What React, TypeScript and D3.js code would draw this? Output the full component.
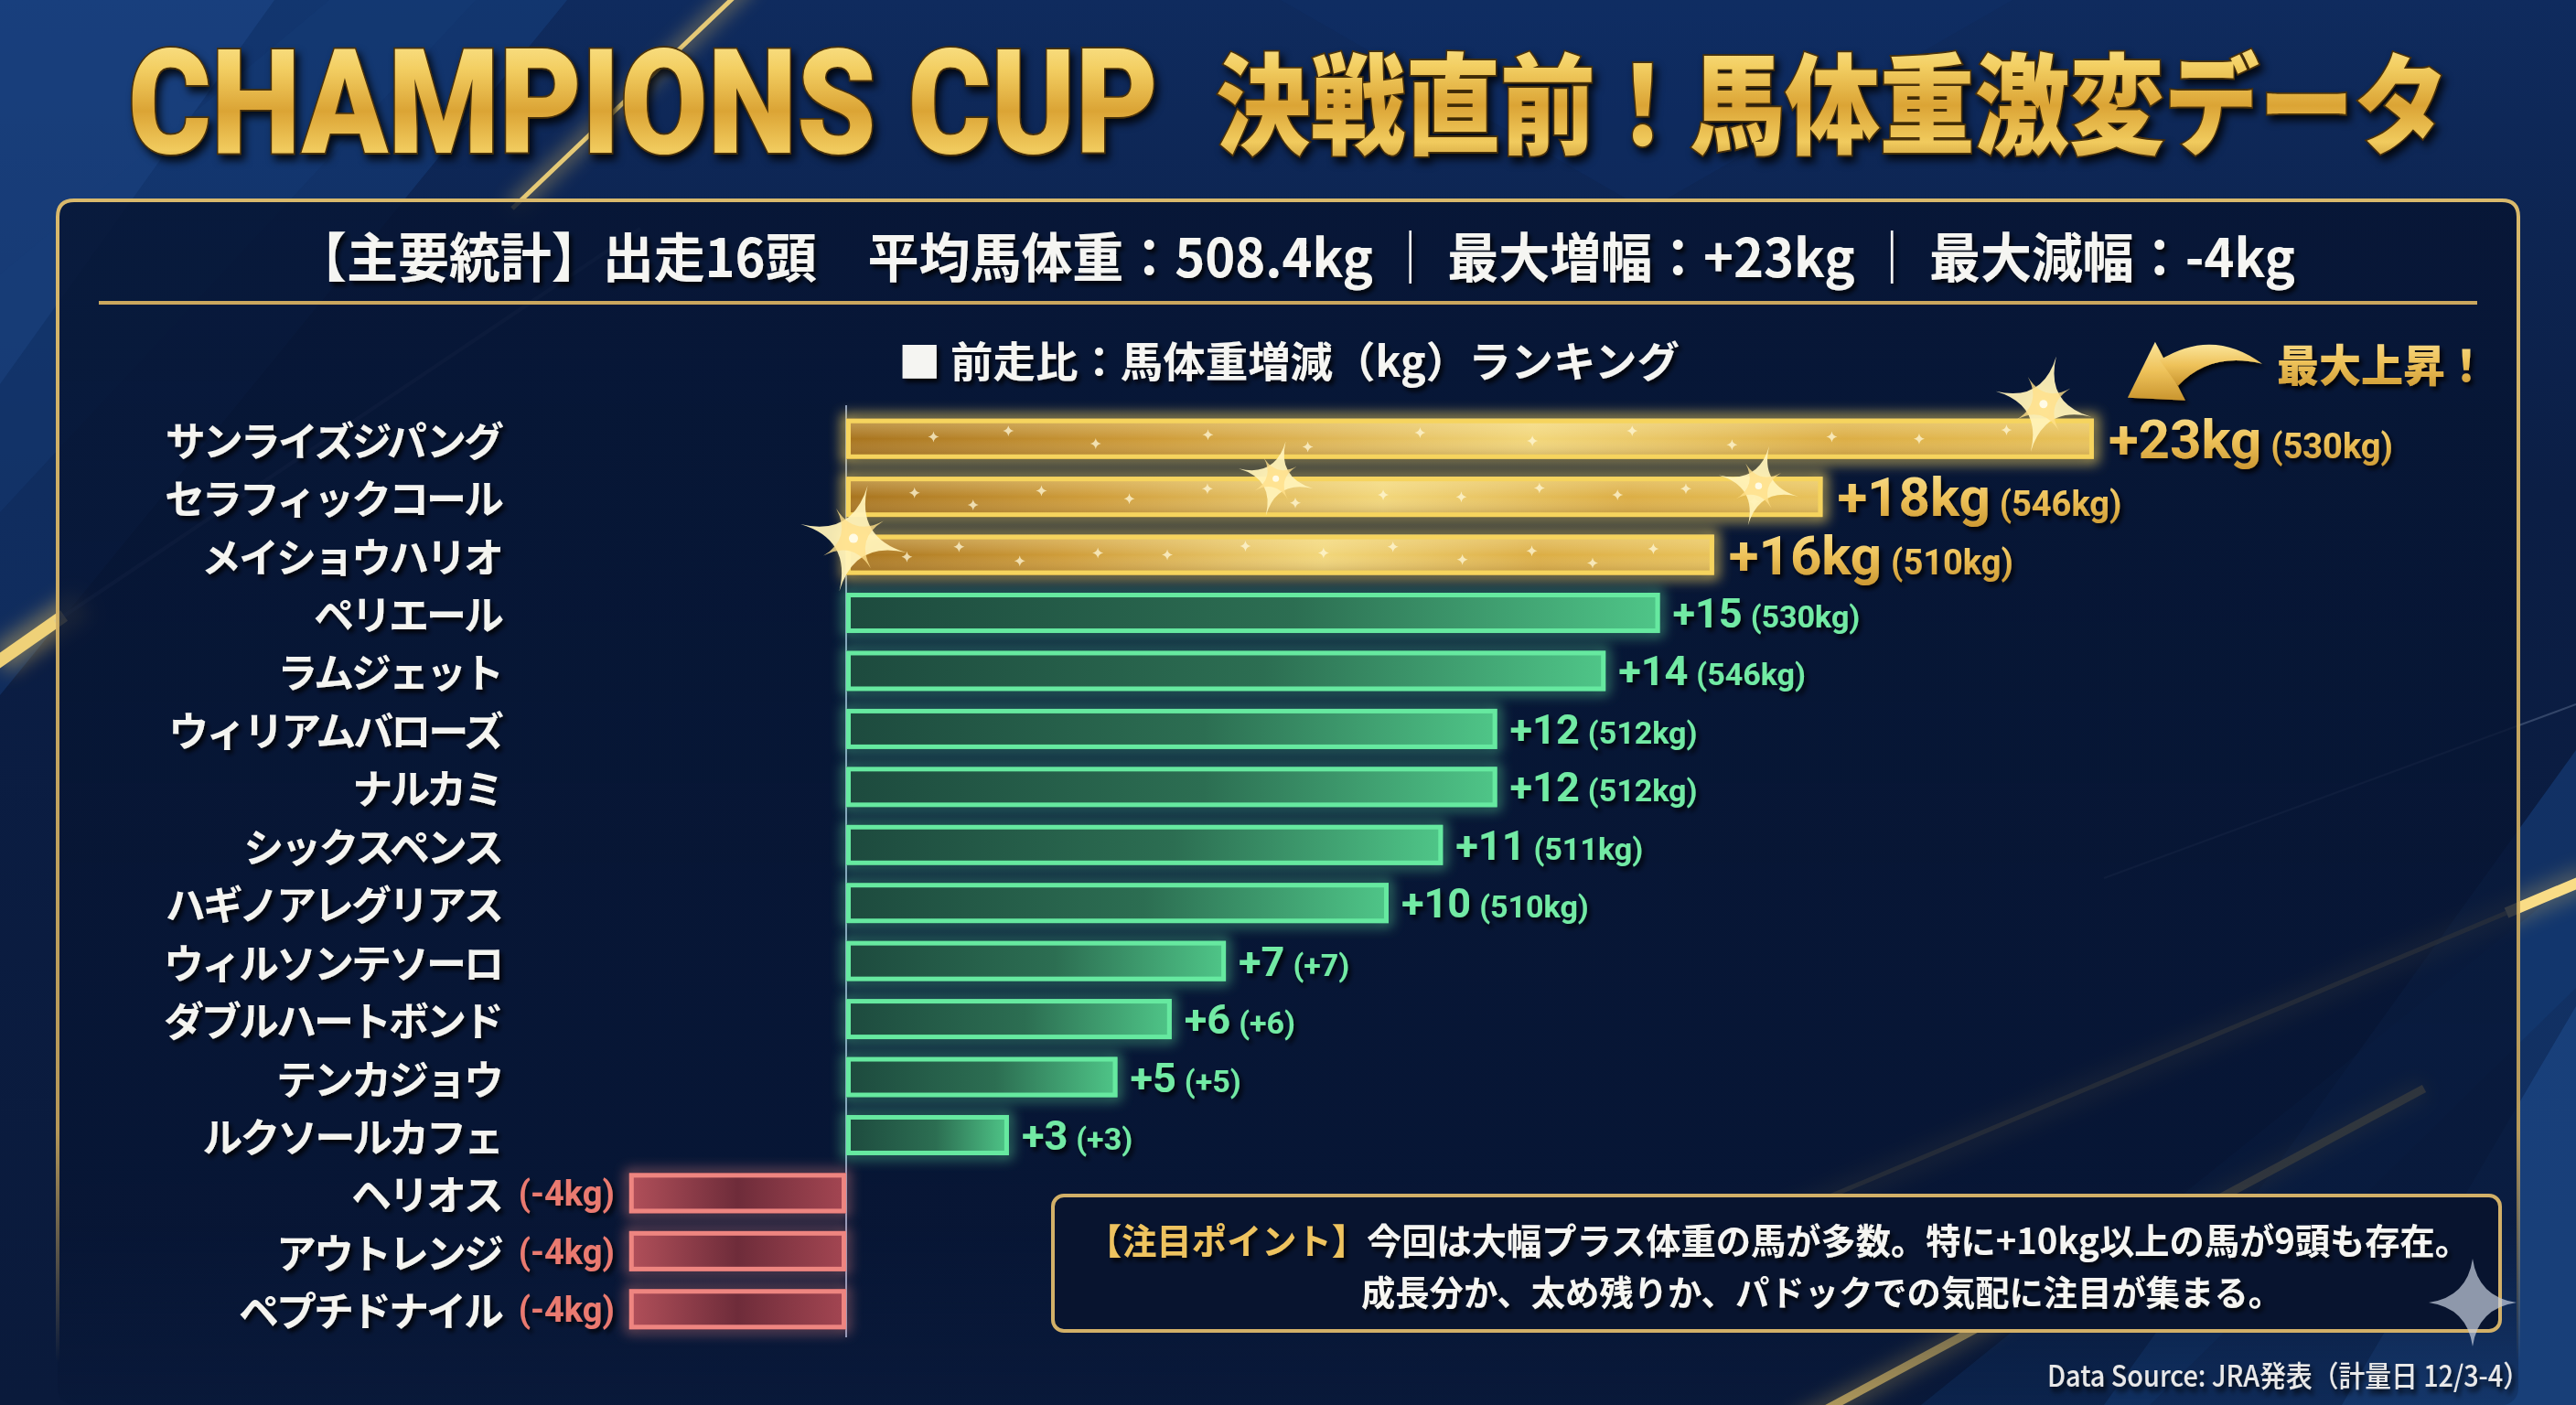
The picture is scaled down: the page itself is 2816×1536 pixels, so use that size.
import React from "react";
import * as d3 from "d3";

// ---------- DATA ----------
const horseNames = [
  "サンライズジパング",
  "セラフィックコール",
  "メイショウハリオ",
  "ペリエール",
  "ラムジェット",
  "ウィリアムバローズ",
  "ナルカミ",
  "シックスペンス",
  "ハギノアレグリアス",
  "ウィルソンテソーロ",
  "ダブルハートボンド",
  "テンカジョウ",
  "ルクソールカフェ",
  "ヘリオス",
  "アウトレンジ",
  "ペプチドナイル",
];
const weightChanges = [23, 18, 16, 15, 14, 12, 12, 11, 10, 7, 6, 5, 3, -4, -4, -4];
const subLabels = [
  "(530kg)", "(546kg)", "(510kg)", "(530kg)", "(546kg)", "(512kg)", "(512kg)", "(511kg)",
  "(510kg)", "(+7)", "(+6)", "(+5)", "(+3)", "(-4kg)", "(-4kg)", "(-4kg)",
];
const goldCount = 3;

const titleEn = "CHAMPIONS CUP";
const titleJa = "決戦直前！馬体重激変データ";
const statsItems = ["【主要統計】出走16頭", "平均馬体重：508.4kg", "最大増幅：+23kg", "最大減幅：-4kg"];
const chartTitle = "■ 前走比：馬体重増減（kg）ランキング";
const maxLabel = "最大上昇！";
const noteHead = "【注目ポイント】";
const noteLine1 = "今回は大幅プラス体重の馬が多数。特に+10kg以上の馬が9頭も存在。";
const noteLine2 = "成長分か、太め残りか、パドックでの気配に注目が集まる。";
const sourceText = "Data Source: JRA発表（計量日 12/3-4）";

// decorative sparkle fractions (position inside gold bars)
const sparkleFx = [0.07, 0.13, 0.2, 0.29, 0.37, 0.46, 0.55, 0.63, 0.71, 0.79, 0.86, 0.93];
const sparkleFy = [0.45, 0.3, 0.62, 0.4, 0.7, 0.35, 0.55, 0.3, 0.65, 0.45, 0.5, 0.28];

const W = 2816;
const H = 1536;
const FONT_JP = "'Noto Sans CJK JP', 'Noto Sans', sans-serif";
const FONT_NUM = "Roboto, 'Noto Sans', sans-serif";

function star4(cx: number, cy: number, r: number, w: number) {
  return `M${cx},${cy - r} Q${cx + w},${cy - w} ${cx + r},${cy} Q${cx + w},${cy + w} ${cx},${cy + r} Q${cx - w},${cy + w} ${cx - r},${cy} Q${cx - w},${cy - w} ${cx},${cy - r} Z`;
}

function Flare({ cx, cy, s }: { cx: number; cy: number; s: number }) {
  return (
    <g>
      <circle cx={cx} cy={cy} r={26 * s} fill="url(#flareGlow)" />
      <g transform={`rotate(15 ${cx} ${cy})`}>
        <path d={star4(cx, cy, 60 * s, 1.6 * s)} fill="#fff2b8" opacity={0.95} />
      </g>
      <g transform={`rotate(-30 ${cx} ${cy})`}>
        <path d={star4(cx, cy, 38 * s, 1.2 * s)} fill="#ffe08a" opacity={0.8} />
      </g>
      <circle cx={cx} cy={cy} r={5 * s} fill="#fffbe6" />
    </g>
  );
}

export default function App() {
  const x = d3.scaleLinear().domain([0, 23]).range([925, 925 + 23 * 59.3]);
  const y = d3.scalePoint<string>().domain(horseNames).range([448, 1463]).padding(0.5);
  const barH = 44;

  const ax = x(weightChanges[0]);
  const ay = y(horseNames[0]) as number;

  return (
    <svg
      width={W}
      height={H}
      viewBox={`0 0 ${W} ${H}`}
      style={{ position: "fixed", left: 0, top: 0, display: "block" }}
    >
      <defs>
        <linearGradient id="bg" x1="0" y1="0" x2="0" y2="1">
          <stop offset="0" stopColor="#0f2b5e" />
          <stop offset="0.35" stopColor="#0b1e45" />
          <stop offset="1" stopColor="#0a1a3b" />
        </linearGradient>
        <linearGradient id="titleGold" x1="0" y1="0" x2="0" y2="1">
          <stop offset="0" stopColor="#fff0a6" />
          <stop offset="0.3" stopColor="#f3cf63" />
          <stop offset="0.55" stopColor="#dba435" />
          <stop offset="0.78" stopColor="#f1cb5e" />
          <stop offset="1" stopColor="#b98426" />
        </linearGradient>
        <linearGradient id="labelGold" x1="0" y1="0" x2="0" y2="1">
          <stop offset="0" stopColor="#fbe59a" />
          <stop offset="0.5" stopColor="#eec25a" />
          <stop offset="1" stopColor="#c9952f" />
        </linearGradient>
        <linearGradient id="panelStroke" gradientUnits="userSpaceOnUse" x1="0" y1="219" x2="0" y2="1490">
          <stop offset="0" stopColor="#d9b96c" />
          <stop offset="0.8" stopColor="#c9a65c" stopOpacity="0.9" />
          <stop offset="1" stopColor="#c9a65c" stopOpacity="0" />
        </linearGradient>
        <linearGradient id="panelFill" gradientUnits="userSpaceOnUse" x1="0" y1="219" x2="0" y2="1536">
          <stop offset="0" stopColor="#071533" stopOpacity="0.85" />
          <stop offset="0.85" stopColor="#071533" stopOpacity="0.8" />
          <stop offset="1" stopColor="#071533" stopOpacity="0.2" />
        </linearGradient>
        <linearGradient id="goldBar" x1="0" y1="0" x2="1" y2="0">
          <stop offset="0" stopColor="#a8741e" />
          <stop offset="0.25" stopColor="#cf9d3a" />
          <stop offset="0.55" stopColor="#f2d67a" />
          <stop offset="0.8" stopColor="#dcae45" />
          <stop offset="1" stopColor="#e8c25a" />
        </linearGradient>
        <linearGradient id="goldSheen" x1="0" y1="0" x2="0" y2="1">
          <stop offset="0" stopColor="#fff2b0" stopOpacity="0.35" />
          <stop offset="0.5" stopColor="#ffffff" stopOpacity="0" />
          <stop offset="1" stopColor="#6b4510" stopOpacity="0.3" />
        </linearGradient>
        <linearGradient id="greenBar" x1="0" y1="0" x2="1" y2="0">
          <stop offset="0" stopColor="#1d4a3e" />
          <stop offset="0.55" stopColor="#2c6e52" />
          <stop offset="1" stopColor="#4fc688" />
        </linearGradient>
        <linearGradient id="redBar" x1="0" y1="0" x2="1" y2="0">
          <stop offset="0" stopColor="#b2505a" />
          <stop offset="0.5" stopColor="#6e2c3a" />
          <stop offset="1" stopColor="#a44652" />
        </linearGradient>
        <radialGradient id="flareGlow">
          <stop offset="0" stopColor="#fff3b0" stopOpacity="0.9" />
          <stop offset="0.4" stopColor="#ffd75a" stopOpacity="0.45" />
          <stop offset="1" stopColor="#ffc83a" stopOpacity="0" />
        </radialGradient>
        <filter id="glow" x="-20%" y="-150%" width="140%" height="400%">
          <feGaussianBlur stdDeviation="7" />
        </filter>
        <filter id="blurBig" x="-50%" y="-50%" width="200%" height="200%">
          <feGaussianBlur stdDeviation="10" />
        </filter>
        <filter id="shadow" x="-10%" y="-30%" width="120%" height="160%">
          <feDropShadow dx="3" dy="4" stdDeviation="2.5" floodColor="#000" floodOpacity="0.85" />
        </filter>
        <filter id="titleShadow" x="-10%" y="-30%" width="120%" height="160%">
          <feDropShadow dx="4" dy="6" stdDeviation="4" floodColor="#000" floodOpacity="0.8" />
        </filter>
      </defs>

      {/* ---------- background ---------- */}
      <rect width={W} height={H} fill="url(#bg)" />
      <polygon points="0,0 620,0 0,760" fill="#1b4a8e" opacity={0.35} />
      <polygon points="0,0 300,0 0,420" fill="#2a5ca8" opacity={0.25} />
      <polygon points="0,300 360,0 520,0 0,560" fill="#163f7c" opacity={0.3} />
      <polygon points="2816,820 2816,1536 2300,1536" fill="#1a4b90" opacity={0.45} />
      <polygon points="2816,1100 2816,1536 2560,1536" fill="#2a62ae" opacity={0.3} />
      <polygon points="2100,1536 2816,960 2816,1080 2350,1536" fill="#14427f" opacity={0.35} />
      <polygon points="1400,0 2200,0 1800,230" fill="#12336c" opacity={0.3} />

      {/* gold streaks */}
      <g>
        <line x1={820} y1={-20} x2={560} y2={228} stroke="#f4c95e" strokeWidth={18} opacity={0.35} filter="url(#blurBig)" />
        <line x1={820} y1={-20} x2={560} y2={228} stroke="#f7d77a" strokeWidth={5} opacity={0.9} />
        <line x1={0} y1={722} x2={90} y2={660} stroke="#f4c95e" strokeWidth={34} opacity={0.4} filter="url(#blurBig)" />
        <line x1={-10} y1={729} x2={70} y2={673} stroke="#f7d77a" strokeWidth={14} opacity={0.95} />
        <line x1={60} y1={680} x2={700} y2={250} stroke="#9fb4d8" strokeWidth={4} opacity={0.18} />
        <line x1={2830} y1={960} x2={1900} y2={1352} stroke="#f4c95e" strokeWidth={30} opacity={0.25} filter="url(#blurBig)" />
        <line x1={2830} y1={960} x2={2740} y2={998} stroke="#f9dc86" strokeWidth={12} opacity={1} />
        <line x1={2740} y1={998} x2={2000} y2={1308} stroke="#e8bf5a" strokeWidth={5} opacity={0.55} />
        <line x1={2650} y1={1190} x2={1960} y2={1560} stroke="#f4c95e" strokeWidth={24} opacity={0.3} filter="url(#blurBig)" />
        <line x1={2650} y1={1190} x2={1960} y2={1560} stroke="#f1cc6a" strokeWidth={9} opacity={0.85} />
        <line x1={2816} y1={770} x2={2300} y2={960} stroke="#aabbd8" strokeWidth={2} opacity={0.25} />
      </g>

      {/* ---------- title ---------- */}
      <g filter="url(#titleShadow)">
        <g transform="translate(140,167) scale(1,1.16)">
          <text
            x={0}
            y={0}
            fontFamily={FONT_NUM}
            fontWeight={900}
            fontSize={138}
            textLength={1126}
            lengthAdjust="spacingAndGlyphs"
            fill="url(#titleGold)"
            stroke="#4a3008"
            strokeWidth={3}
            paintOrder="stroke"
          >
            {titleEn}
          </text>
        </g>
        <g transform="translate(1329,159) scale(1,1.15)">
          <text
            x={0}
            y={0}
            fontFamily={FONT_JP}
            fontWeight={900}
            fontSize={104}
            textLength={1348}
            lengthAdjust="spacingAndGlyphs"
            fill="url(#titleGold)"
            stroke="#4a3008"
            strokeWidth={3}
            paintOrder="stroke"
          >
            {titleJa}
          </text>
        </g>
      </g>

      {/* ---------- panel ---------- */}
      <rect x={63} y={219} width={2690} height={1317} rx={18} fill="url(#panelFill)" />
      <path
        d="M63,1490 L63,237 Q63,219 81,219 L2735,219 Q2753,219 2753,237 L2753,1490"
        fill="none"
        stroke="url(#panelStroke)"
        strokeWidth={4}
      />
      <text
        x={323}
        y={278}
        fontFamily={FONT_JP}
        fontWeight={700}
        fontSize={58}
        dominantBaseline="central"
        textLength={2186}
        lengthAdjust="spacingAndGlyphs"
        fill="#f5f5f2"
        filter="url(#shadow)"
      >
        {`${statsItems[0]}　${statsItems[1]} ｜ ${statsItems[2]} ｜ ${statsItems[3]}`}
      </text>
      <line x1={108} y1={331} x2={2708} y2={331} stroke="#caa75e" strokeWidth={4} />

      {/* chart title */}
      <text
        x={982}
        y={392}
        fontFamily={FONT_JP}
        fontWeight={700}
        fontSize={46}
        dominantBaseline="central"
        textLength={854}
        lengthAdjust="spacingAndGlyphs"
        fill="#f5f5f2"
        filter="url(#shadow)"
      >
        {chartTitle}
      </text>

      {/* zero axis */}
      <line x1={x(0)} y1={443} x2={x(0)} y2={1462} stroke="#8a9cc0" strokeWidth={2} />

      {/* ---------- bars ---------- */}
      {horseNames.map((name, i) => {
        const v = weightChanges[i];
        const tier = i < goldCount ? "gold" : v < 0 ? "red" : "green";
        const cy = y(name) as number;
        const x0 = v >= 0 ? x(0) : x(v);
        const w = Math.abs(x(v) - x(0));
        const top = cy - barH / 2;
        const stroke = tier === "gold" ? "#f6d45e" : tier === "green" ? "#66e9a0" : "#ee8580";
        const fill = tier === "gold" ? "url(#goldBar)" : tier === "green" ? "url(#greenBar)" : "url(#redBar)";
        return (
          <g key={name}>
            <rect
              x={x0}
              y={top}
              width={w}
              height={barH}
              fill="none"
              stroke={stroke}
              strokeWidth={tier === "gold" ? 10 : 7}
              opacity={tier === "gold" ? 0.75 : 0.6}
              filter="url(#glow)"
            />
            <rect x={x0} y={top} width={w} height={barH} fill={fill} />
            {tier === "gold" && <rect x={x0} y={top} width={w} height={barH} fill="url(#goldSheen)" />}
            <rect
              x={x0 + 2.5}
              y={top + 2.5}
              width={w - 5}
              height={barH - 5}
              fill="none"
              stroke={stroke}
              strokeWidth={5}
            />
            {tier === "gold" &&
              sparkleFx.map((fx, k) => (
                <path
                  key={k}
                  d={star4(x0 + fx * w, top + sparkleFy[(k + i * 3) % sparkleFy.length] * barH, 6, 0.8)}
                  fill="#fff8d8"
                  opacity={0.75}
                />
              ))}
          </g>
        );
      })}

      {/* flares */}
      <Flare cx={x(weightChanges[0]) - 55} cy={(y(horseNames[0]) as number) - 38} s={0.9} />
      <Flare cx={x(0) + (x(weightChanges[1]) - x(0)) * 0.44} cy={(y(horseNames[1]) as number) - 20} s={0.7} />
      <Flare cx={x(weightChanges[1]) - 70} cy={(y(horseNames[1]) as number) - 12} s={0.75} />
      <Flare cx={x(0) + 8} cy={(y(horseNames[2]) as number) - 18} s={1} />

      {/* horse names */}
      {horseNames.map((name) => (
        <text
          key={name}
          x={548}
          y={y(name) as number}
          textAnchor="end"
          dominantBaseline="central"
          fontFamily={FONT_JP}
          fontWeight={700}
          fontSize={44}
          letterSpacing={-3}
          fill="#f4f4f0"
          filter="url(#shadow)"
        >
          {name}
        </text>
      ))}

      {/* value labels */}
      {horseNames.map((name, i) => {
        const v = weightChanges[i];
        const cy = y(name) as number;
        if (i < goldCount) {
          return (
            <text key={name} x={x(v) + 16} y={cy + 21} fontFamily={FONT_NUM} fontWeight={700} fill="url(#labelGold)" filter="url(#shadow)">
              <tspan fontSize={60}>{`+${v}kg`}</tspan>
              <tspan fontSize={38} dx={10}>{subLabels[i]}</tspan>
            </text>
          );
        }
        if (v >= 0) {
          return (
            <text key={name} x={x(v) + 14} y={cy + 16} fontFamily={FONT_NUM} fontWeight={700} fill="#72eaa4" filter="url(#shadow)">
              <tspan fontSize={45}>{`+${v}`}</tspan>
              <tspan fontSize={34} dx={9}>{subLabels[i]}</tspan>
            </text>
          );
        }
        return (
          <text key={name} x={x(v) - 16} y={cy + 14} textAnchor="end" fontFamily={FONT_NUM} fontWeight={700} fontSize={38} fill="#ea7a70" filter="url(#shadow)">
            {subLabels[i]}
          </text>
        );
      })}

      {/* max annotation */}
      <g filter="url(#shadow)">
        <path
          d={`M${ax + 37},${ay - 45} L${ax + 67},${ay - 106} L${ax + 100},${ay - 42} Z`}
          fill="url(#labelGold)"
        />
        <path
          d={`M${ax + 72},${ay - 86} Q${ax + 130},${ay - 122} ${ax + 184},${ay - 82} Q${ax + 128},${ay - 96} ${ax + 92},${ay - 58} Z`}
          fill="url(#labelGold)"
        />
        <text
          x={ax + 200}
          y={ay - 84}
          dominantBaseline="central"
          fontFamily={FONT_JP}
          fontWeight={900}
          fontSize={48}
          textLength={230}
          lengthAdjust="spacingAndGlyphs"
          fill="url(#labelGold)"
        >
          {maxLabel}
        </text>
      </g>

      {/* ---------- note box ---------- */}
      <rect x={1151} y={1307} width={1582} height={148} rx={12} fill="#08142f" stroke="#d2b068" strokeWidth={4} />
      <text
        x={1188}
        y={1354}
        dominantBaseline="central"
        fontFamily={FONT_JP}
        fontWeight={700}
        fontSize={39}
        textLength={1512}
        lengthAdjust="spacingAndGlyphs"
        filter="url(#shadow)"
      >
        <tspan fill="#eec35e">{noteHead}</tspan>
        <tspan fill="#f5f5f2">{noteLine1}</tspan>
      </text>
      <text
        x={1488}
        y={1410}
        dominantBaseline="central"
        fontFamily={FONT_JP}
        fontWeight={700}
        fontSize={38}
        textLength={1007}
        lengthAdjust="spacingAndGlyphs"
        fill="#f5f5f2"
        filter="url(#shadow)"
      >
        {noteLine2}
      </text>

      {/* sparkle mark */}
      <path d={star4(2703, 1424, 48, 6)} fill="#c8d0e0" opacity={0.7} />

      {/* source */}
      <g transform="translate(2765,1503) scale(1,1.18)">
        <text
          x={0}
          y={0}
          textAnchor="end"
          dominantBaseline="central"
          fontFamily={FONT_JP}
          fontWeight={500}
          fontSize={27}
          textLength={527}
          lengthAdjust="spacingAndGlyphs"
          fill="#e8e8e8"
          filter="url(#shadow)"
        >
          {sourceText}
        </text>
      </g>
    </svg>
  );
}
